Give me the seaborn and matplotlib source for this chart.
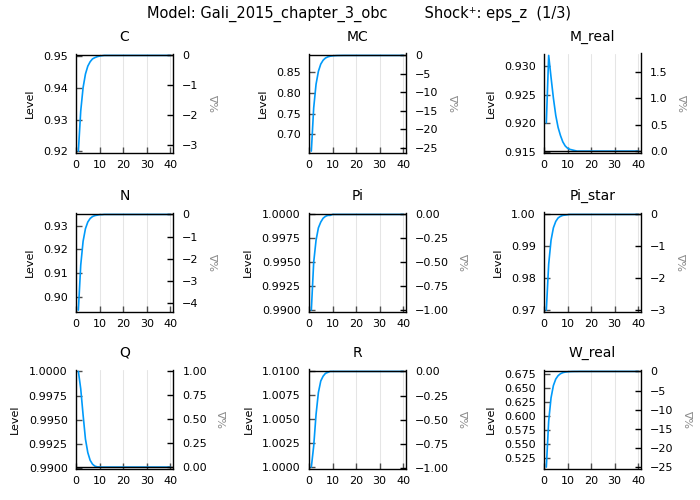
import numpy as np
import matplotlib
matplotlib.use("Agg")
import matplotlib.pyplot as plt
from matplotlib.ticker import MultipleLocator, ScalarFormatter
import seaborn as sns

sns.set_style("ticks")
plt.rcParams['font.family'] = ['DejaVu Sans']
plt.rcParams['axes.unicode_minus'] = True
plt.rcParams['text.color'] = 'black'
plt.rcParams['axes.labelcolor'] = 'black'
plt.rcParams['xtick.color'] = 'black'
plt.rcParams['ytick.color'] = 'black'

# impulse responses to eps_z, 40 periods
periods = np.arange(1, 41)

C = [0.9200, 0.9327, 0.9401, 0.9444, 0.9469, 0.9483, 0.9492, 0.9496, 0.9499, 0.9501,
     0.9502, 0.9503, 0.9503, 0.9503, 0.9503, 0.9503, 0.9503, 0.9503, 0.9503, 0.9503,
     0.9503, 0.9503, 0.9503, 0.9503, 0.9503, 0.9503, 0.9503, 0.9503, 0.9503, 0.9503,
     0.9503, 0.9503, 0.9503, 0.9503, 0.9503, 0.9503, 0.9503, 0.9503, 0.9503, 0.9503]
MC = [0.6599, 0.7641, 0.8211, 0.8523, 0.8697, 0.8790, 0.8843, 0.8871, 0.8887, 0.8895,
      0.8900, 0.8903, 0.8904, 0.8905, 0.8906, 0.8906, 0.8906, 0.8906, 0.8906, 0.8906,
      0.8906, 0.8906, 0.8906, 0.8906, 0.8906, 0.8906, 0.8906, 0.8906, 0.8906, 0.8906,
      0.8906, 0.8906, 0.8906, 0.8906, 0.8906, 0.8906, 0.8906, 0.8906, 0.8906, 0.8906]
M_real = [0.9201, 0.9318, 0.9280, 0.9244, 0.9214, 0.9193, 0.9179, 0.9168, 0.9161, 0.9157,
          0.9155, 0.9154, 0.9153, 0.9152, 0.9152, 0.9152, 0.9152, 0.9152, 0.9152, 0.9152,
          0.9152, 0.9152, 0.9152, 0.9152, 0.9152, 0.9152, 0.9152, 0.9152, 0.9152, 0.9152,
          0.9152, 0.9152, 0.9152, 0.9152, 0.9152, 0.9152, 0.9152, 0.9152, 0.9152, 0.9152]
N = [0.8945, 0.9134, 0.9234, 0.9287, 0.9315, 0.9330, 0.9338, 0.9342, 0.9344, 0.9346,
     0.9346, 0.9347, 0.9347, 0.9347, 0.9347, 0.9347, 0.9347, 0.9347, 0.9347, 0.9347,
     0.9347, 0.9347, 0.9347, 0.9347, 0.9347, 0.9347, 0.9347, 0.9347, 0.9347, 0.9347,
     0.9347, 0.9347, 0.9347, 0.9347, 0.9347, 0.9347, 0.9347, 0.9347, 0.9347, 0.9347]
Pi = [0.9900, 0.9950, 0.9973, 0.9986, 0.9992, 0.9996, 0.9998, 0.9999, 0.9999, 1.0000,
      1.0000, 1.0000, 1.0000, 1.0000, 1.0000, 1.0000, 1.0000, 1.0000, 1.0000, 1.0000,
      1.0000, 1.0000, 1.0000, 1.0000, 1.0000, 1.0000, 1.0000, 1.0000, 1.0000, 1.0000,
      1.0000, 1.0000, 1.0000, 1.0000, 1.0000, 1.0000, 1.0000, 1.0000, 1.0000, 1.0000]
Pi_star = [0.9700, 0.9844, 0.9919, 0.9958, 0.9978, 0.9989, 0.9994, 0.9997, 0.9998, 0.9999,
           1.0000, 1.0000, 1.0000, 1.0000, 1.0000, 1.0000, 1.0000, 1.0000, 1.0000, 1.0000,
           1.0000, 1.0000, 1.0000, 1.0000, 1.0000, 1.0000, 1.0000, 1.0000, 1.0000, 1.0000,
           1.0000, 1.0000, 1.0000, 1.0000, 1.0000, 1.0000, 1.0000, 1.0000, 1.0000, 1.0000]
Q = [1.0000, 0.9982, 0.9955, 0.9930, 0.9916, 0.9908, 0.9904, 0.9902, 0.99012, 0.99011,
     0.990099, 0.990099, 0.990099, 0.990099, 0.990099, 0.990099, 0.990099, 0.990099, 0.990099, 0.990099,
     0.990099, 0.990099, 0.990099, 0.990099, 0.990099, 0.990099, 0.990099, 0.990099, 0.990099, 0.990099,
     0.990099, 0.990099, 0.990099, 0.990099, 0.990099, 0.990099, 0.990099, 0.990099, 0.990099, 0.990099]
R = [1.0000, 1.0022, 1.0055, 1.0078, 1.0090, 1.0095, 1.0098, 1.0099, 1.0100, 1.0100,
     1.0100, 1.0100, 1.0100, 1.0100, 1.0100, 1.0100, 1.0100, 1.0100, 1.0100, 1.0100,
     1.0100, 1.0100, 1.0100, 1.0100, 1.0100, 1.0100, 1.0100, 1.0100, 1.0100, 1.0100,
     1.0100, 1.0100, 1.0100, 1.0100, 1.0100, 1.0100, 1.0100, 1.0100, 1.0100, 1.0100]
W_real = [0.5097, 0.5913, 0.6327, 0.6545, 0.6660, 0.6721, 0.6755, 0.6774, 0.6784, 0.6789,
          0.6792, 0.6794, 0.6795, 0.6795, 0.6796, 0.6796, 0.6796, 0.6796, 0.6796, 0.6796,
          0.6796, 0.6796, 0.6796, 0.6796, 0.6796, 0.6796, 0.6796, 0.6796, 0.6796, 0.6796,
          0.6796, 0.6796, 0.6796, 0.6796, 0.6796, 0.6796, 0.6796, 0.6796, 0.6796, 0.6796]

names = ["C", "MC", "M_real", "N", "Pi", "Pi_star", "Q", "R", "W_real"]
series = [C, MC, M_real, N, Pi, Pi_star, Q, R, W_real]
steady = [0.9503, 0.8906, 0.9152, 0.9347, 1.0, 1.0, 0.990099, 1.01, 0.6796]
level_step = [0.01, 0.05, 0.005, 0.01, 0.0025, 0.01, 0.0025, 0.0025, 0.025]
pct_step = [1, 5, 0.5, 1, 0.25, 1, 0.25, 0.25, 5]

fig = plt.figure(figsize=(7, 5), dpi=100)
lefts = [0.1086, 0.4414, 0.7771]
bottoms = [0.694, 0.376, 0.062]

for i, name in enumerate(names):
    r, c = divmod(i, 3)
    ax = fig.add_axes([lefts[c], bottoms[r], 0.138, 0.199])
    vals = np.array(series[i])
    ss = steady[i]

    sns.lineplot(x=periods, y=vals, ax=ax, color='#009AFA', lw=1.2)
    ax.axhline(ss, color='black', lw=1)

    lo = min(vals.min(), ss)
    hi = max(vals.max(), ss)
    pad = 0.02 * (hi - lo)
    ax.set_ylim(lo - pad, hi + pad)
    ax.set_xlim(0, 41)
    ax.set_xticks([0, 10, 20, 30, 40])
    ax.yaxis.set_major_locator(MultipleLocator(level_step[i]))
    ax.yaxis.set_major_formatter(ScalarFormatter(useOffset=False))
    ax.grid(axis='x', color='black', alpha=0.1, lw=0.8)
    ax.set_axisbelow(True)
    ax.set_title(name, fontsize=10, pad=9)
    ax.set_ylabel("Level", fontsize=8, labelpad=6)
    ax.tick_params(direction='in', length=4, width=1, color='0.3', labelsize=8)
    ax.tick_params(axis='y', pad=6)
    ax.tick_params(axis='x', pad=5)
    ax.spines['top'].set_visible(False)
    ax.spines['right'].set_visible(False)
    for s in ['left', 'bottom']:
        ax.spines[s].set_color('black')
        ax.spines[s].set_linewidth(1)

    ax2 = ax.twinx()
    ax2.set_ylim((lo - pad) / ss * 100 - 100, (hi + pad) / ss * 100 - 100)
    ax2.yaxis.set_major_locator(MultipleLocator(pct_step[i]))
    ax2.yaxis.set_major_formatter(ScalarFormatter(useOffset=False))
    ax2.set_ylabel("%Δ", fontsize=8, color='0.55', labelpad=8)
    ax2.tick_params(direction='in', length=4, width=1, color='black', labelsize=8, pad=7)
    for s in ['top', 'left', 'bottom']:
        ax2.spines[s].set_visible(False)
    ax2.spines['right'].set_color('black')
    ax2.spines['right'].set_linewidth(1)

fig.text(0.513, 0.988, "Model: Gali_2015_chapter_3_obc        Shock\u207a: eps_z  (1/3)",
         ha='center', va='top', fontsize=10.5, color='black')

fig.savefig("out.png", dpi=100)
